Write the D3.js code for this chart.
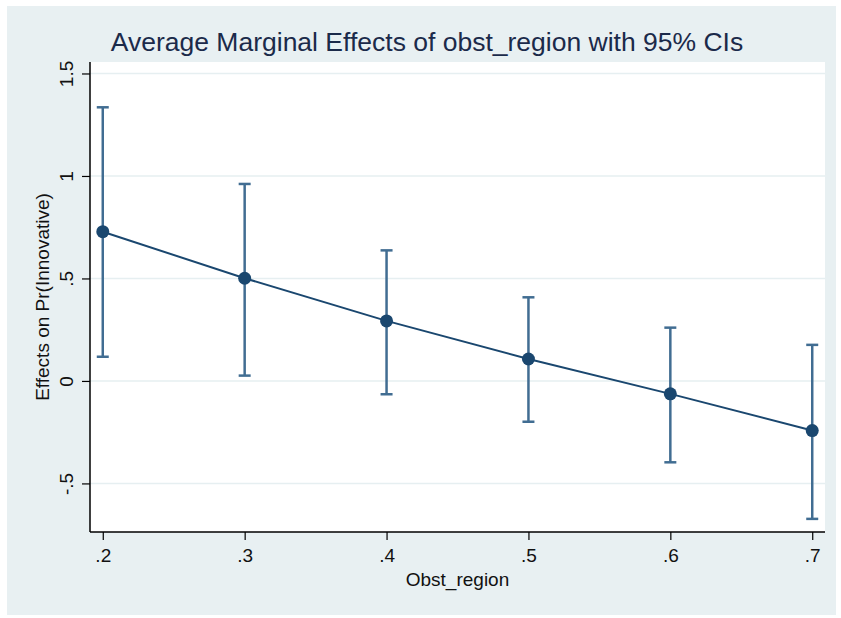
<!DOCTYPE html>
<html>
    <head>
        <title></title>
    </head>
    <body style="margin:0; background:#ffffff;">
        <script src="https://cdnjs.cloudflare.com/ajax/libs/d3/7.8.5/d3.min.js" charset="utf-8"></script>
        <script>

        var w = 841;
        var h = 618;

        // data
        var xValues = [0.2, 0.3, 0.4, 0.5, 0.6, 0.7];
        var effects = [0.728, 0.501, 0.293, 0.107, -0.063, -0.242];
        var ciLower = [0.118, 0.026, -0.065, -0.199, -0.397, -0.673];
        var ciUpper = [1.335, 0.961, 0.637, 0.408, 0.260, 0.176];
        var yTicks = [-0.5, 0, 0.5, 1, 1.5];
        var yTickLabels = ["-.5", "0", ".5", "1", "1.5"];
        var xTickLabels = [".2", ".3", ".4", ".5", ".6", ".7"];

        var dataset = xValues.map(function(d, i) {
            return { x: d, y: effects[i], lo: ciLower[i], hi: ciUpper[i] };
        });

        // plot region edges
        var pLeft = 90, pRight = 825, pTop = 62, pBottom = 532;

        var xScale = d3.scaleLinear()
                       .domain([0.191, 0.709])
                       .range([pLeft, pRight]);

        var yScale = d3.scaleLinear()
                       .domain([-0.737, 1.556])
                       .range([pBottom, pTop]);

        var navy = "#1a476f";
        var ciColor = "#416d92";
        var font = "Liberation Sans, Arial, sans-serif";

        var svg = d3.select("body")
                    .append("svg")
                    .attr("width", w)
                    .attr("height", h)
                    .style("display", "block");

        //graph region background
        svg.append("rect")
            .attr("x", 7)
            .attr("y", 6)
            .attr("width", 829)
            .attr("height", 609)
            .attr("fill", "#e8f0f2");

        //plot region
        svg.append("rect")
            .attr("x", pLeft)
            .attr("y", pTop)
            .attr("width", pRight - pLeft)
            .attr("height", pBottom - pTop)
            .attr("fill", "white");

        //grid lines
        svg.selectAll("line.grid")
            .data(yTicks)
            .enter()
            .append("line")
            .attr("class", "grid")
            .attr("x1", pLeft)
            .attr("x2", pRight)
            .attr("y1", function(d) { return yScale(d); })
            .attr("y2", function(d) { return yScale(d); })
            .attr("stroke", "#e6eff1")
            .attr("stroke-width", 1.5);

        //y axis
        var yAxis = d3.axisLeft(yScale)
                      .tickValues(yTicks)
                      .tickSize(8)
                      .tickFormat(function(d, i) { return yTickLabels[i]; });

        var gy = svg.append("g")
            .attr("transform", "translate(" + pLeft + ",0)")
            .call(yAxis);
        gy.attr("font-family", font).attr("font-size", 19);
        gy.select(".domain").remove();
        gy.selectAll(".tick line").attr("stroke", "#000").attr("stroke-width", 1.2);
        gy.selectAll(".tick text")
            .attr("x", null)
            .attr("dy", null)
            .attr("transform", "translate(-17,0) rotate(-90)")
            .attr("text-anchor", "middle")
            .attr("fill", "#111");

        //x axis
        var xAxis = d3.axisBottom(xScale)
                      .tickValues(xValues)
                      .tickSize(8)
                      .tickFormat(function(d, i) { return xTickLabels[i]; });

        var gx = svg.append("g")
            .attr("transform", "translate(0," + pBottom + ")")
            .call(xAxis);
        gx.attr("font-family", font).attr("font-size", 19);
        gx.select(".domain").remove();
        gx.selectAll(".tick line").attr("stroke", "#000").attr("stroke-width", 1.2);
        gx.selectAll(".tick text")
            .attr("y", 17)
            .attr("dy", "0.71em")
            .attr("fill", "#111");

        //axis lines
        svg.append("line")
            .attr("x1", pLeft).attr("x2", pLeft)
            .attr("y1", pTop).attr("y2", pBottom)
            .attr("stroke", "#000").attr("stroke-width", 1.5);
        svg.append("line")
            .attr("x1", pLeft).attr("x2", pRight)
            .attr("y1", pBottom).attr("y2", pBottom)
            .attr("stroke", "#000").attr("stroke-width", 1.5);

        //confidence intervals
        svg.selectAll("line.ci")
            .data(dataset)
            .enter()
            .append("line")
            .attr("class", "ci")
            .attr("x1", function(d) { return xScale(d.x); })
            .attr("x2", function(d) { return xScale(d.x); })
            .attr("y1", function(d) { return yScale(d.lo); })
            .attr("y2", function(d) { return yScale(d.hi); })
            .attr("stroke", ciColor)
            .attr("stroke-width", 2.5);

        var capW = 6;
        ["lo", "hi"].forEach(function(k) {
            svg.selectAll("line.cap-" + k)
                .data(dataset)
                .enter()
                .append("line")
                .attr("class", "cap-" + k)
                .attr("x1", function(d) { return xScale(d.x) - capW; })
                .attr("x2", function(d) { return xScale(d.x) + capW; })
                .attr("y1", function(d) { return yScale(d[k]); })
                .attr("y2", function(d) { return yScale(d[k]); })
                .attr("stroke", ciColor)
                .attr("stroke-width", 2.5);
        });

        //connected line
        var line = d3.line()
                     .x(function(d) { return xScale(d.x); })
                     .y(function(d) { return yScale(d.y); });

        svg.append("path")
            .datum(dataset)
            .attr("d", line)
            .attr("fill", "none")
            .attr("stroke", navy)
            .attr("stroke-width", 2);

        //markers
        svg.selectAll("circle")
            .data(dataset)
            .enter()
            .append("circle")
            .attr("cx", function(d) { return xScale(d.x); })
            .attr("cy", function(d) { return yScale(d.y); })
            .attr("r", 6.5)
            .attr("fill", navy);

        //title
        svg.append("text")
            .attr("x", 427)
            .attr("y", 51)
            .attr("text-anchor", "middle")
            .attr("font-family", font)
            .attr("font-size", "26.5px")
            .attr("fill", "#1b2a4a")
            .text("Average Marginal Effects of obst_region with 95% CIs");

        //axis titles
        svg.append("text")
            .attr("transform", "translate(49," + ((pTop + pBottom) / 2) + ") rotate(-90)")
            .attr("text-anchor", "middle")
            .attr("font-family", font)
            .attr("font-size", "19px")
            .attr("fill", "#111")
            .text("Effects on Pr(Innovative)");

        svg.append("text")
            .attr("x", (pLeft + pRight) / 2)
            .attr("y", 586)
            .attr("text-anchor", "middle")
            .attr("font-family", font)
            .attr("font-size", "19px")
            .attr("fill", "#111")
            .text("Obst_region");

        </script>
    </body>
</html>
